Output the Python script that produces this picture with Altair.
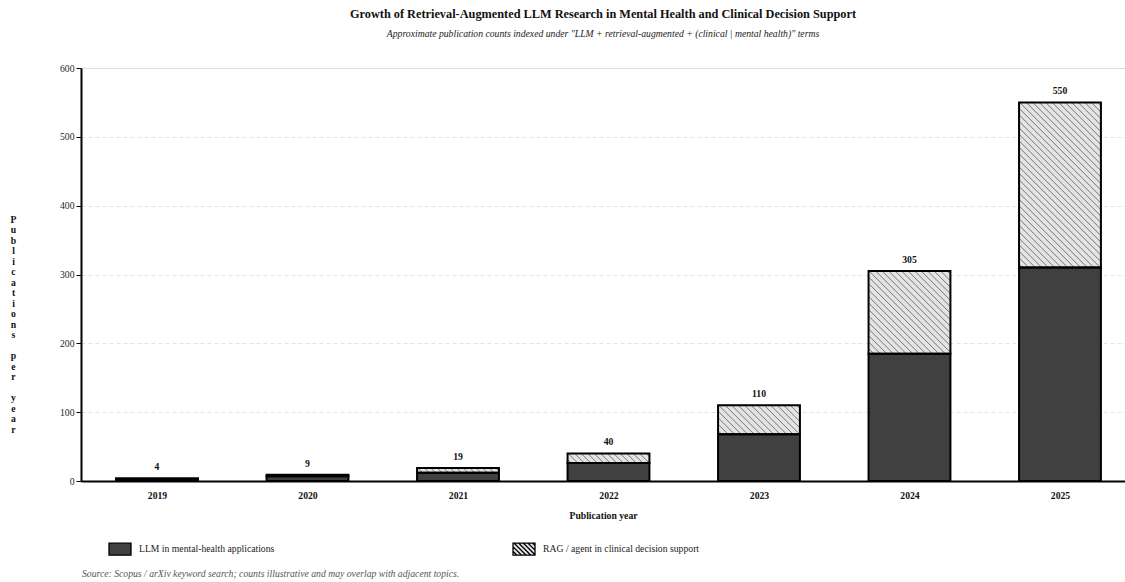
import altair as alt
import pandas as pd

# Publication counts per year (stacked)
years = [2019, 2020, 2021, 2022, 2023, 2024, 2025]
llm_mental_health = [3, 7, 12, 26, 68, 185, 310]
rag_clinical = [1, 2, 7, 14, 42, 120, 240]
series_names = ["LLM in mental-health applications", "RAG / agent in clinical decision support"]
series_fills = ["#404040", "#e4e4e4"]

title_text = "Growth of Retrieval-Augmented LLM Research in Mental Health and Clinical Decision Support"
subtitle_text = 'Approximate publication counts indexed under "LLM + retrieval-augmented + (clinical | mental health)" terms'
source_text = "Source: Scopus / arXiv keyword search; counts illustrative and may overlap with adjacent topics."
y_title = "Publications per year"

# Layout
W, H = 1044, 413
X_DOMAIN = [2018.495, 2025.432]
Y_MAX = 600
HALF = 0.272          # half bar width, in years
HATCH_STEP = 6.5      # hatch spacing, px
FONT = "Liberation Serif"
FS = 9.7              # base font size

# Stacked segments
rows = []
for yr, a, b in zip(years, llm_mental_health, rag_clinical):
    rows.append(dict(year=yr, x0=yr - HALF, x1=yr + HALF, y0=0, y1=a,
                     series=series_names[0], fill=series_fills[0]))
    rows.append(dict(year=yr, x0=yr - HALF, x1=yr + HALF, y0=a, y1=a + b,
                     series=series_names[1], fill=series_fills[1]))
seg = pd.DataFrame(rows)
totals = pd.DataFrame({"year": years,
                       "total": [a + b for a, b in zip(llm_mental_health, rag_clinical)]})

# Diagonal hatch strokes clipped to each RAG segment
kx = W / (X_DOMAIN[1] - X_DOMAIN[0])
ky = H / Y_MAX
hatch = []
for r in seg[seg.series == series_names[1]].itertuples():
    w = (r.x1 - r.x0) * kx
    h = (r.y1 - r.y0) * ky
    c = -w + HATCH_STEP / 2
    while c < h:
        u0 = max(0.0, -c)
        u1 = min(w, h - c)
        if u1 > u0:
            hatch.append(dict(hx=r.x0 + u0 / kx, hy=r.y1 - (u0 + c) / ky,
                              hx2=r.x0 + u1 / kx, hy2=r.y1 - (u1 + c) / ky))
        c += HATCH_STEP
hatch_df = pd.DataFrame(hatch)


# Legend symbol paths: plain box and hatched box
def box_path(hh):
    return f"M-1,{-hh}H1V{hh}H-1Z"


def hatched_box_path(hh, step=0.42):
    p = box_path(hh)
    c = -2 + step / 2
    while c < 2 * hh:
        u0 = max(0.0, -c)
        u1 = min(2.0, 2 * hh - c)
        if u1 > u0:
            p += f" M{u0 - 1:.3f},{u0 + c - hh:.3f}L{u1 - 1:.3f},{u1 + c - hh:.3f}"
        c += step
    return p


HH = 0.545
legend_shapes = [box_path(HH), hatched_box_path(HH)]

x_scale = alt.Scale(domain=X_DOMAIN, nice=False, zero=False)
y_scale = alt.Scale(domain=[0, Y_MAX], nice=False)

# Stacked one-character-per-line axis title (blank lines between words)
y_title_lines = [ch if ch != " " else "\u200b" for ch in y_title]

x_axis = alt.Axis(
    title="Publication year", values=years, format="d", grid=False, ticks=False,
    labelFont=FONT, labelFontSize=FS, labelFontWeight="bold", labelColor="#111",
    labelPadding=9, labelFlush=False,
    titleFont=FONT, titleFontSize=FS, titleFontWeight="bold", titleColor="#111",
    titlePadding=11, domainColor="black", domainWidth=2,
)
y_axis = alt.Axis(
    title=y_title_lines, titleAngle=0, titleAlign="center", titleBaseline="top",
    titleX=-68, titleY=146, titleLineHeight=10.5,
    titleFont=FONT, titleFontSize=FS, titleFontWeight="bold", titleColor="#111",
    values=list(range(0, Y_MAX + 1, 100)), grid=True, gridDash=[4, 3],
    gridColor="#dcdcdc", gridWidth=0.8, tickSize=5, tickColor="black",
    labelFont=FONT, labelFontSize=FS, labelColor="#222", labelPadding=2,
    domainColor="black", domainWidth=2,
)


def X(field):
    return alt.X(field, type="quantitative", scale=x_scale, axis=x_axis)


def Y(field):
    return alt.Y(field, type="quantitative", scale=y_scale, axis=y_axis)


fills = alt.Chart(seg).mark_rect().encode(
    x=X("x0"), x2="x1", y=Y("y0"), y2="y1",
    fill=alt.Fill("fill:N", scale=None),
)

hatch_lines = alt.Chart(hatch_df).mark_rule(stroke="#6a6a6a", strokeWidth=0.9).encode(
    x=X("hx"), x2="hx2", y=Y("hy"), y2="hy2",
)

outlines = alt.Chart(seg).mark_rect(fillOpacity=0, stroke="black", strokeWidth=2).encode(
    x=X("x0"), x2="x1", y=Y("y0"), y2="y1",
)

labels = alt.Chart(totals).mark_text(
    dy=-11, font=FONT, fontSize=FS, fontWeight="bold", color="#111"
).encode(x=X("year"), y=Y("total"), text="total:Q")

legend_spec = alt.Legend(
    title=None, orient="none", legendX=27, legendY=469, direction="horizontal",
    symbolSize=484, symbolStrokeColor="black", symbolStrokeWidth=1.3,
    symbolOpacity=1, symbolFillColor="#404040",
    labelFont=FONT, labelFontSize=FS, labelColor="#222", labelOffset=7,
    columnPadding=235, padding=0, labelLimit=400,
)
legend_df = pd.DataFrame({"series": series_names, "px": [2020, 2021], "py": [-100, -100]})
legend_pts = alt.Chart(legend_df).mark_point(
    filled=True, clip=True, opacity=1, stroke="black", strokeWidth=1.3
).encode(
    x=X("px"), y=Y("py"),
    fill=alt.Fill("series:N", scale=alt.Scale(domain=series_names, range=series_fills),
                  legend=legend_spec),
    shape=alt.Shape("series:N", scale=alt.Scale(domain=series_names, range=legend_shapes),
                    legend=legend_spec),
)

source = alt.Chart(pd.DataFrame({"t": [source_text]})).mark_text(
    align="left", baseline="middle", font=FONT, fontSize=FS, fontStyle="italic", color="#555"
).encode(x=alt.value(1), y=alt.value(506), text="t:N")

chart = alt.layer(fills, hatch_lines, outlines, labels, legend_pts, source).properties(
    width=W, height=H,
    title=alt.TitleParams(
        text=title_text, subtitle=subtitle_text, anchor="middle",
        font=FONT, fontSize=12.3, fontWeight="bold", color="#111",
        subtitleFont=FONT, subtitleFontSize=FS, subtitleFontStyle="italic",
        subtitleColor="#222", subtitlePadding=9, offset=24,
    ),
    autosize=alt.AutoSizeParams(type="none"),
    padding={"left": 81, "top": 68, "right": 0, "bottom": 101},
).configure_view(stroke=None).configure(font=FONT, background="white")

chart.save("out.html", embed_options={"renderer": "svg", "actions": False})
